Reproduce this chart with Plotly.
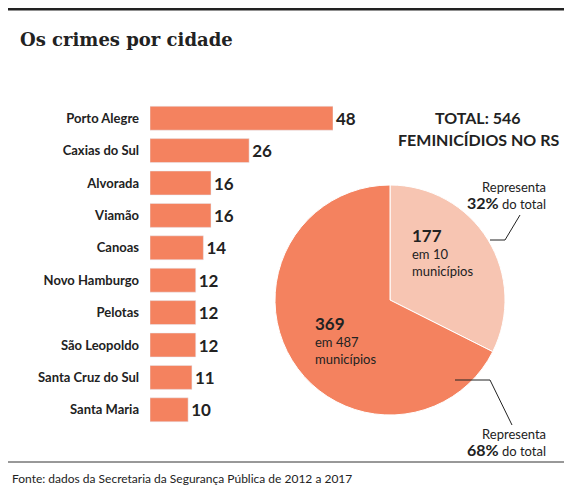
import plotly.graph_objects as go

cities = ["Porto Alegre","Caxias do Sul","Alvorada","Viamão","Canoas","Novo Hamburgo","Pelotas","São Leopoldo","Santa Cruz do Sul","Santa Maria"]
counts = [48,26,16,16,14,12,12,12,11,10]
pie_labels = ["em 10 municípios","em 487 municípios"]
pie_values = [177,369]

W,H = 556,488
px = lambda x: (x-8)/W
py = lambda y: 1-(y-8)/H
F = "Lato"
bar_c = "#f4825f"; light_c = "#f7c5b2"

fig = go.Figure()
fig.add_trace(go.Bar(y=cities, x=counts, orientation="h", marker_color=bar_c, width=0.74,
    text=[f"<b>{c}</b>" for c in counts], textposition="outside", cliponaxis=False,
    textfont=dict(family=F, size=17, color="#222"), xaxis="x", yaxis="y", showlegend=False))
fig.add_trace(go.Pie(values=pie_values, labels=pie_labels, sort=False, direction="clockwise", rotation=0,
    marker=dict(colors=[light_c, bar_c], line=dict(color="white", width=1)),
    textinfo="none", hoverinfo="label+value", showlegend=False,
    domain=dict(x=[px(275),px(505)], y=[py(415),py(185)])))

ann = []
def t(x,y,s,size=13,bold=False,anchor="left",color="#222",fam=F):
    ann.append(dict(x=px(x),y=py(y),xref="paper",yref="paper",text=f"<b>{s}</b>" if bold else s,
        showarrow=False,xanchor=anchor,yanchor="middle",align=anchor if anchor!="center" else "center",
        font=dict(family=fam,size=size,color=color)))
t(18,40,"Os crimes por cidade",18,True,fam="DejaVu Serif")
t(478,118,"TOTAL: 546",16,True,"center")
t(478,140,"FEMINICÍDIOS NO RS",16,True,"center")
t(410,252,"<b style='font-size:17px'>177</b><br>em 10<br>municípios",13)
t(313,340,"<b style='font-size:17px'>369</b><br>em 487<br>municípios",13)
t(548,195,"Representa<br><b style='font-size:16px'>32%</b> do total",13,anchor="right")
t(548,442,"Representa<br><b style='font-size:16px'>68%</b> do total",13,anchor="right")
t(10,478,"Fonte: dados da Secretaria da Segurança Pública de 2012 a 2017",12)

def L(x0,y0,x1,y1,c="#222",w=1):
    return dict(type="line",xref="paper",yref="paper",x0=px(x0),x1=px(x1),y0=py(y0),y1=py(y1),line=dict(color=c,width=w))
shapes = [L(8,9,564,9,w=3), L(8,462,564,462,c="#333"),
          L(520,215,505,240), L(505,240,490,240), L(455,380,490,380), L(490,380,512,425)]
fig.update_layout(width=W,height=H,margin=dict(l=0,r=0,t=0,b=0),paper_bgcolor="white",plot_bgcolor="white",
    annotations=ann,shapes=shapes,bargap=0.26,
    xaxis=dict(domain=[px(150),px(333)],range=[0,48],visible=False,fixedrange=True),
    yaxis=dict(domain=[py(426),py(102)],autorange="reversed",showline=False,showgrid=False,ticks="",
        tickfont=dict(family=F,size=13,color="#222"),ticklabelstandoff=10),
    font=dict(family=F))
fig.update_yaxes(ticktext=[f"<b>{c}</b>" for c in cities], tickvals=cities)
fig.write_html("out.html")
